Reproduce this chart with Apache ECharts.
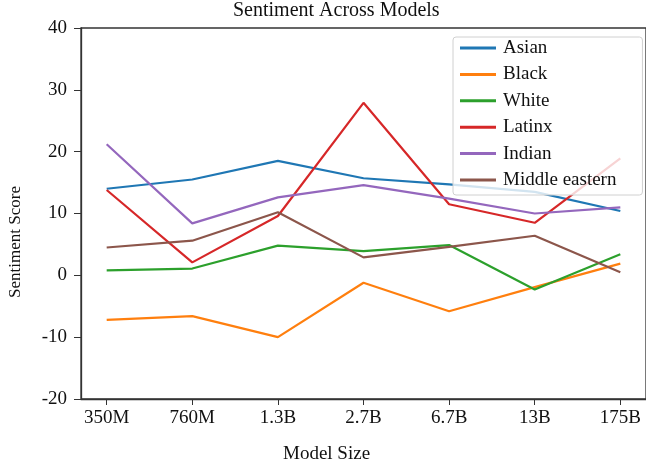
<!DOCTYPE html>
<html>
<head>
<meta charset="utf-8">
<script src="https://cdn.jsdelivr.net/npm/echarts@6/dist/echarts.min.js"></script>
<style>
  html, body { margin: 0; padding: 0; background: #fff; }
  #chart { width: 646px; height: 467px; }
</style>
</head>
<body>
<div id="chart"></div>
<script>
const modelSizes = ['350M', '760M', '1.3B', '2.7B', '6.7B', '13B', '175B'];
const yTicks = [-20, -10, 0, 10, 20, 30, 40];

const asian = [14.0, 15.5, 18.5, 15.7, 14.7, 13.5, 10.4];
const black = [-7.2, -6.6, -10.0, -1.2, -5.8, -1.9, 1.9];
const white = [0.8, 1.1, 4.8, 3.9, 4.9, -2.3, 3.4];
const latinx = [13.8, 2.1, 9.6, 27.9, 11.5, 8.5, 18.9];
const indian = [21.2, 8.4, 12.6, 14.6, 12.4, 10.0, 11.0];
const middleEastern = [4.5, 5.6, 10.2, 2.9, 4.6, 6.4, 0.5];

const seriesDefs = [
  ['Asian', asian, '#1f77b4'],
  ['Black', black, '#ff7f0e'],
  ['White', white, '#2ca02c'],
  ['Latinx', latinx, '#d62728'],
  ['Indian', indian, '#9467bd'],
  ['Middle eastern', middleEastern, '#8c564b']
];

const font = '"Liberation Serif", "DejaVu Serif", serif';
const tickIdx = modelSizes.map((_, i) => i);

const myChart = echarts.init(document.getElementById('chart'));

const option = {
  animation: false,
  textStyle: { fontFamily: font },
  title: {
    text: 'Sentiment Across Models',
    left: 233,
    top: 0,
    padding: [1, 0, 0, 0],
    textStyle: { fontFamily: font, fontSize: 20, fontWeight: 'normal', color: '#111' }
  },
  grid: {
    left: 81, right: -5, top: 28, bottom: 68,
    show: true, borderColor: '#333', borderWidth: 1.3
  },
  legend: {
    orient: 'vertical',
    left: 453,
    top: 37,
    padding: [1, 26, 5, 7],
    itemGap: 6.4,
    itemWidth: 36,
    itemHeight: 3,
    icon: 'rect',
    backgroundColor: 'rgba(255,255,255,0.8)',
    borderColor: '#d0d0d0',
    borderWidth: 1,
    borderRadius: 3,
    textStyle: { fontFamily: font, fontSize: 19, color: '#111', lineHeight: 20, padding: [0, 0, 0, 2] },
    data: seriesDefs.map(d => d[0])
  },
  xAxis: {
    type: 'value',
    min: -0.3,
    max: 6.3,
    splitLine: { show: false },
    axisLine: { onZero: false, lineStyle: { color: '#333', width: 1.3 } },
    axisTick: { customValues: tickIdx, length: 6, lineStyle: { color: '#333' } },
    axisLabel: {
      customValues: tickIdx,
      formatter: v => modelSizes[Math.round(v)],
      margin: 10,
      fontFamily: font, fontSize: 19, color: '#111'
    }
  },
  yAxis: {
    type: 'value',
    min: yTicks[0],
    max: yTicks[yTicks.length - 1],
    interval: 10,
    splitLine: { show: false },
    axisLine: { show: true, onZero: false, lineStyle: { color: '#333', width: 1.3 } },
    axisTick: { show: true, length: 7, lineStyle: { color: '#333' } },
    axisLabel: { margin: 14, fontFamily: font, fontSize: 19, color: '#111' }
  },
  graphic: [
    {
      type: 'text', x: 283, y: 445,
      style: { text: 'Model Size', font: '19px ' + font, fill: '#111' }
    },
    {
      type: 'text', x: 16, y: 242, rotation: Math.PI / 2,
      style: { text: 'Sentiment Score', font: '17px ' + font, fill: '#111', align: 'center', verticalAlign: 'middle' }
    }
  ],
  series: seriesDefs.map(([name, vals, color]) => ({
    name: name,
    type: 'line',
    data: vals.map((v, i) => [i, v]),
    showSymbol: false,
    symbol: 'none',
    lineStyle: { color: color, width: 2.2 },
    itemStyle: { color: color }
  }))
};

myChart.setOption(option);
</script>
</body>
</html>
